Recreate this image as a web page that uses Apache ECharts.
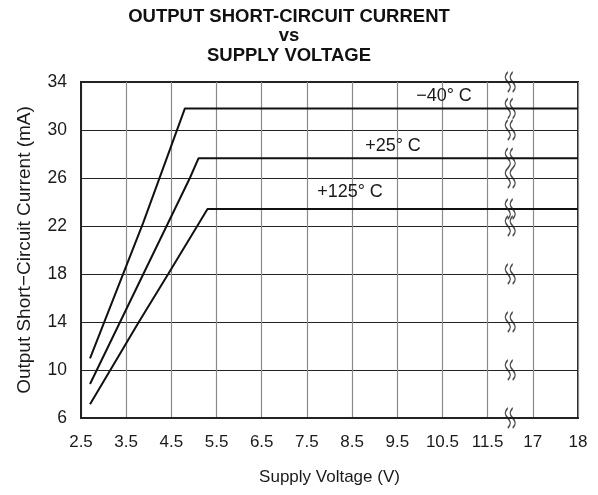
<!DOCTYPE html>
<html>
<head>
<meta charset="utf-8">
<script src="https://cdn.jsdelivr.net/npm/echarts@6/dist/echarts.min.js"></script>
<style>
html,body{margin:0;padding:0;background:#fff;}
#chart{width:598px;height:495px;}
</style>
</head>
<body>
<div id="chart"></div>
<script>
// ---- data ----
const xTickLabels = ['2.5','3.5','4.5','5.5','6.5','7.5','8.5','9.5','10.5','11.5','17','18'];
const yMin = 6, yMax = 34, yStep = 4;

const voltsM40 = [2.7, 3.88, 4.8, 18];
const currM40  = [10.97, 22.3, 31.8, 31.8];

const volts25  = [2.7, 3.88, 4.91, 5.10, 18];
const curr25   = [8.83, 18, 26, 27.64, 27.64];

const volts125 = [2.7, 3.78, 4.43, 5.12, 5.30, 18];
const curr125  = [7.14, 14, 18, 22.3, 23.42, 23.42];

const seriesNames = ['\u221240\u00b0 C', '+25\u00b0 C', '+125\u00b0 C'];

// broken axis: 2.5..11.5 then 17..18, one tick per unit
function axisPos(v) { return v <= 12 ? v - 2.5 : 10 + (v - 17); }
const breakPos = (xTickLabels.indexOf('11.5') + xTickLabels.indexOf('17')) / 2;

function toPairs(xs, ys) { return xs.map((v, i) => [axisPos(v), ys[i]]); }

const gridYValues = [];
for (let v = yMin; v <= yMax; v += yStep) gridYValues.push(v);
const breakYValues = gridYValues.concat([currM40[currM40.length-1], curr25[curr25.length-1], curr125[curr125.length-1]]);

const chart = echarts.init(document.getElementById('chart'), null, {renderer: 'canvas'});
const FONT = 'Liberation Sans, Arial, Helvetica, sans-serif';
const lineStyle = {color: '#111', width: 2};

const squiggle = 'path://M3.5,0 C0,4 0,6 3.5,10 C7,14 7,16 3.5,20 M8.5,0 C5,4 5,6 8.5,10 C12,14 12,16 8.5,20';

chart.setOption({
  animation: false,
  backgroundColor: '#fff',
  grid: {left: 81, top: 82, right: 20, bottom: 77, show: true, borderColor: '#222', borderWidth: 2, backgroundColor: 'transparent'},
  xAxis: {
    type: 'value', min: 0, max: xTickLabels.length - 1, interval: 1,
    axisLine: {show: true, lineStyle: {color: '#222', width: 2}},
    axisTick: {show: false},
    splitLine: {show: true, lineStyle: {color: '#8a8a8a', width: 1.2}},
    axisLabel: {
      formatter: v => xTickLabels[Math.round(v)] || '',
      fontFamily: FONT, fontSize: 17, color: '#1a1a1a', margin: 16
    },
    name: 'Supply Voltage (V)', nameLocation: 'middle', nameGap: 51,
    nameTextStyle: {fontFamily: FONT, fontSize: 17, color: '#1a1a1a'}
  },
  yAxis: {
    type: 'value', min: yMin, max: yMax, interval: yStep,
    axisLine: {show: true, lineStyle: {color: '#222', width: 2}},
    axisTick: {show: false},
    splitLine: {show: true, lineStyle: {color: '#222', width: 1}},
    axisLabel: {fontFamily: FONT, fontSize: 17.5, color: '#1a1a1a', margin: 14},
    name: 'Output Short\u2212Circuit Current (mA)', nameLocation: 'middle', nameGap: 47,
    nameTextStyle: {fontFamily: FONT, fontSize: 19, color: '#1a1a1a'}
  },
  series: [
    {name: seriesNames[0], type: 'line', data: toPairs(voltsM40, currM40), showSymbol: false, symbol: 'none', lineStyle: lineStyle, z: 3},
    {name: seriesNames[1], type: 'line', data: toPairs(volts25, curr25), showSymbol: false, symbol: 'none', lineStyle: lineStyle, z: 3},
    {name: seriesNames[2], type: 'line', data: toPairs(volts125, curr125), showSymbol: false, symbol: 'none', lineStyle: lineStyle, z: 3},
    {
      type: 'scatter', data: breakYValues.map(y => [breakPos, y]),
      symbol: squiggle, symbolSize: [10, 20], silent: true, z: 5,
      itemStyle: {color: 'transparent', borderColor: '#1a1a1a', borderWidth: 1.6}
    }
  ],
  graphic: [
    {type: 'text', x: 289, y: 16.5, z: 10, style: {text: 'OUTPUT SHORT-CIRCUIT CURRENT', font: 'bold 18.5px ' + FONT, fill: '#111', textAlign: 'center', textVerticalAlign: 'middle'}},
    {type: 'text', x: 289, y: 36, z: 10, style: {text: 'vs', font: 'bold 18.5px ' + FONT, fill: '#111', textAlign: 'center', textVerticalAlign: 'middle'}},
    {type: 'text', x: 289, y: 55.5, z: 10, style: {text: 'SUPPLY VOLTAGE', font: 'bold 18.5px ' + FONT, fill: '#111', textAlign: 'center', textVerticalAlign: 'middle'}},
    {type: 'text', x: 444, y: 96, z: 10, style: {text: seriesNames[0], font: '18px ' + FONT, fill: '#1a1a1a', textAlign: 'center', textVerticalAlign: 'middle'}},
    {type: 'text', x: 393, y: 146, z: 10, style: {text: seriesNames[1], font: '18px ' + FONT, fill: '#1a1a1a', textAlign: 'center', textVerticalAlign: 'middle'}},
    {type: 'text', x: 350, y: 192, z: 10, style: {text: seriesNames[2], font: '18px ' + FONT, fill: '#1a1a1a', textAlign: 'center', textVerticalAlign: 'middle'}}
  ]
});
</script>
</body>
</html>
